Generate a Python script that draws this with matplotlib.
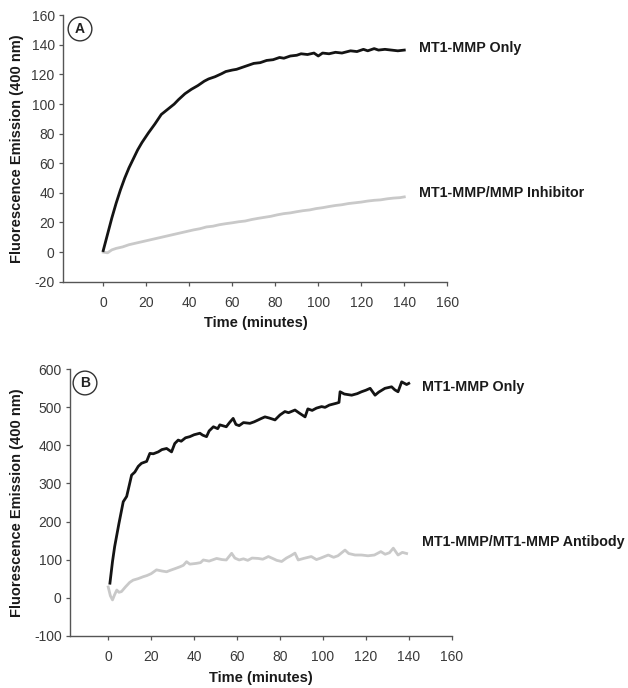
import matplotlib
matplotlib.use("Agg")
import matplotlib.pyplot as plt

plt.rcParams['font.family'] = ['Liberation Sans', 'DejaVu Sans']
plt.rcParams['axes.unicode_minus'] = False

W, H = 628, 688

# ---------------- Panel A data ----------------
a_only_t = [0, 2, 4, 6, 8, 10, 12, 14, 16, 18, 21, 24, 27, 30, 33, 35, 38, 41, 44, 47,
            49, 52, 55, 57, 60, 62, 64, 67, 70, 73, 76, 79, 82, 84, 87, 90, 92, 95, 98,
            100, 102, 105, 108, 111, 115, 118, 121, 123, 126, 128, 131, 134, 137, 140]
a_only_v = [1, 12, 23, 33, 42, 50, 57, 63, 69, 74, 80.5, 86.5, 93, 96.5, 100, 103, 107,
            110, 112.5, 115.5, 117, 118.5, 120.5, 122, 123, 123.5, 124.5, 126, 127.5, 128,
            129.5, 130, 131.5, 131, 132.5, 133, 134, 133.5, 134.5, 132.5, 134.5, 134, 135,
            134.5, 136, 135.5, 137, 136, 137.5, 136.5, 137, 136.5, 136, 136.5]

a_inh_t = [0, 2, 4, 6, 9, 12, 15, 18, 21, 24, 27, 30, 33, 36, 39, 42, 45, 48, 51, 54,
           57, 60, 63, 66, 69, 72, 75, 78, 81, 84, 87, 90, 93, 96, 99, 102, 105, 108,
           111, 114, 117, 120, 123, 126, 129, 132, 135, 138, 140]
a_inh_v = [0, -0.5, 1.5, 2.5, 3.5, 5, 6, 7, 8, 9, 10, 11, 12, 13, 14, 15, 15.8, 17,
           17.5, 18.5, 19.2, 19.8, 20.5, 21, 22, 22.8, 23.5, 24.2, 25.2, 26, 26.5, 27.3,
           28, 28.5, 29.4, 30, 30.8, 31.5, 32, 32.8, 33.3, 33.8, 34.5, 35, 35.3, 36,
           36.5, 36.8, 37.3]

# ---------------- Panel B data ----------------
b_only_t = [0.8, 2, 3, 5, 7, 8.6, 10, 10.9, 12.4, 14, 15.5, 17.9, 19.4, 21, 23.3, 25,
            27.2, 29.5, 31, 32.6, 34, 36, 38, 40, 42.7, 44, 45.8, 47, 49, 51, 52, 55,
            56.5, 58.2, 59.5, 61, 63, 66, 68, 69.9, 71, 73, 75, 77.7, 80, 82.3, 84, 87,
            89, 91.7, 93, 95, 97, 99.4, 101, 103, 106.4, 107.5, 108, 110, 113.4, 116, 118,
            120, 122, 124.3, 126, 128.9, 132, 133.5, 135, 136.7, 139, 140]
b_only_v = [38, 95, 134, 195, 252, 266, 300, 322, 330, 345, 353, 358, 379, 378, 383, 389,
            392, 383, 405, 414, 411, 420, 423, 428, 432, 427, 423, 438, 449, 444, 454, 449,
            460, 471, 455, 452, 460, 458, 462, 467, 470, 475, 472, 467, 480, 489, 486, 493,
            485, 475, 496, 492, 498, 502, 500, 506, 511, 513, 541, 535, 532, 536, 541, 545,
            550, 532, 540, 550, 554, 546, 541, 567, 560, 563]

b_ab_t = [0, 1, 2, 3, 4, 5, 6.2, 8, 10, 11.6, 14, 16.3, 18, 20, 22.5, 25, 27.2, 29, 31,
          33.4, 35, 36.5, 38, 41, 43, 44.3, 47, 50.5, 53, 55, 57.5, 59, 61, 63, 65, 67,
          69.9, 72, 74.6, 77, 78.5, 80.8, 83, 85, 87, 88.5, 91, 94.6, 97, 99, 102.5,
          105, 107, 110.3, 112, 115, 118, 121, 124, 127, 129, 131, 132.8, 135, 137, 139]
b_ab_v = [28, 5, -6, 8, 20, 14, 16, 28, 40, 46, 50, 55, 58, 63, 73, 70, 68, 72, 76, 81,
          85, 94.5, 88, 90, 92, 99, 96, 103, 100, 99, 116.5, 104, 99, 102, 98, 104, 103,
          101, 108, 102, 98, 95, 104, 110, 117, 99, 103, 108, 100, 104, 112, 106, 110,
          125, 116, 112, 112, 110, 112, 121, 114, 118, 130, 112, 119, 116]

a_yticks = [-20, 0, 20, 40, 60, 80, 100, 120, 140, 160]
b_yticks = [-100, 0, 100, 200, 300, 400, 500, 600]
xticks = [0, 20, 40, 60, 80, 100, 120, 140, 160]

fig = plt.figure(figsize=(W / 100, H / 100), dpi=100)


def rect(l, t, r, b):
    return [l / W, 1 - b / H, (r - l) / W, (b - t) / H]


def style(ax, xlim, ylim, yticks):
    ax.set_xlim(*xlim)
    ax.set_ylim(*ylim)
    ax.set_xticks(xticks)
    ax.set_yticks(yticks)
    for s in ('top', 'right'):
        ax.spines[s].set_visible(False)
    for s in ('left', 'bottom'):
        ax.spines[s].set_color('#555555')
        ax.spines[s].set_linewidth(1.0)
    ax.tick_params(axis='y', direction='out', length=3, width=0.9, color='#555555',
                   pad=3, labelsize=10, labelcolor='#3a3a3a')
    ax.tick_params(axis='x', direction='out', length=3, width=0.9, color='#555555',
                   pad=7, labelsize=10, labelcolor='#3a3a3a')


BLACK = '#141414'
GRAY = '#c9c9c9'

# Panel A
axA = fig.add_axes(rect(63, 15.3, 447.3, 281.7))
style(axA, (-18.7, 160), (-20, 160), a_yticks)
axA.plot(a_inh_t, a_inh_v, color=GRAY, lw=2.0)
axA.plot(a_only_t, a_only_v, color=BLACK, lw=2.0)

# Panel B
axB = fig.add_axes(rect(70, 369.3, 451.7, 635.7))
style(axB, (-17.8, 160), (-100, 600), b_yticks)
axB.plot(b_ab_t, b_ab_v, color=GRAY, lw=2.0)
axB.plot(b_only_t, b_only_v, color=BLACK, lw=2.0)


def ftext(x, y, s, **kw):
    fig.text(x / W, 1 - y / H, s, **kw)


lab = dict(fontsize=10.5, fontweight='bold', color='#1a1a1a')
ser = dict(fontsize=10.3, fontweight='bold', color='#1a1a1a')
ftext(17.5, 148.5, 'Fluorescence Emission (400 nm)', rotation=90, ha='center', va='center', **lab)
ftext(17.5, 502.5, 'Fluorescence Emission (400 nm)', rotation=90, ha='center', va='center', **lab)
ftext(256, 323, 'Time (minutes)', ha='center', va='center', **lab)
ftext(261, 678, 'Time (minutes)', ha='center', va='center', **lab)

ftext(419, 48, 'MT1-MMP Only', ha='left', va='center', **ser)
ftext(419, 193, 'MT1-MMP/MMP Inhibitor', ha='left', va='center', **ser)
ftext(421.7, 386.7, 'MT1-MMP Only', ha='left', va='center', **ser)
ftext(421.7, 542, 'MT1-MMP/MT1-MMP Antibody', ha='left', va='center', **ser)

circ = dict(boxstyle='circle,pad=0.35', fc='white', ec='#333333', lw=1.0)
ftext(80, 29, 'A', ha='center', va='center', fontsize=10, fontweight='bold',
      color='#222222', bbox=circ)
ftext(85, 383, 'B', ha='center', va='center', fontsize=10, fontweight='bold',
      color='#222222', bbox=circ)

fig.savefig('out.png', dpi=100)
